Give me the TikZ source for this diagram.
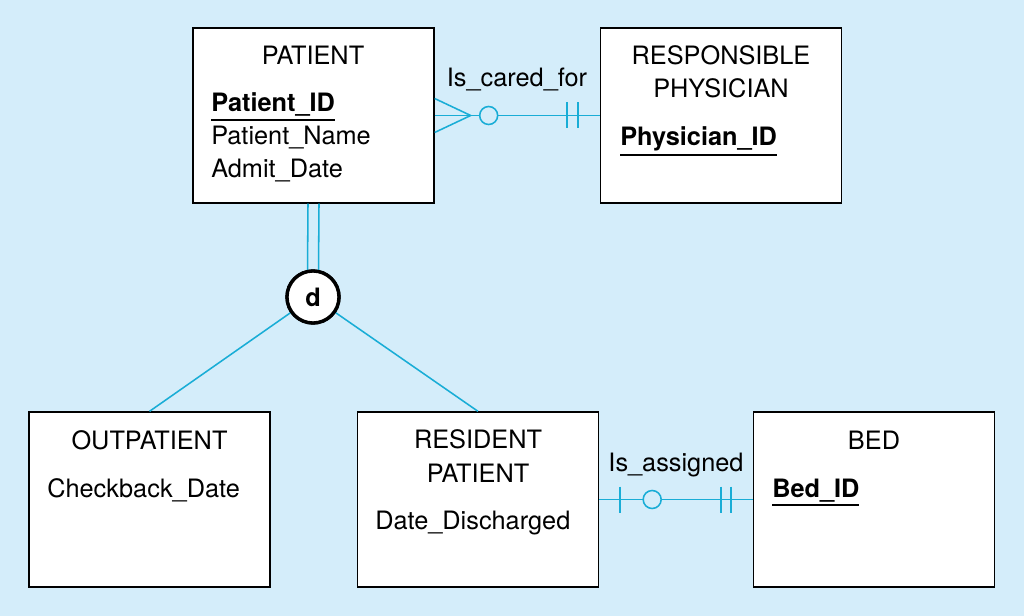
\documentclass[tikz,border=0pt]{standalone}
\usepackage{fontspec}
\setmainfont{TeX Gyre Heros}
\usetikzlibrary{calc}
\definecolor{BgClr}{rgb}{0.83,0.93,0.98}
\definecolor{LinkClr}{rgb}{0.10,0.68,0.84}
\newcommand{\pkey}[1]{\leavevmode\vtop{\hbox{\textbf{#1}}\kern1.6pt\hrule height 1.3pt}}

\begin{document}
\begin{tikzpicture}[x=0.025cm,y=-0.025cm,
  entity/.style={draw,fill=white,line width=0.9pt,minimum width=6.025cm,minimum height=4.375cm,inner sep=0pt},
  title/.style={anchor=base,align=center,inner sep=0pt},
  attr/.style={anchor=base west,inner sep=0pt},
  rel/.style={anchor=base,inner sep=0pt},
  link/.style={draw=LinkClr,line width=1.1pt},
  disjoint/.style={circle,draw,fill=white,line width=2.4pt,minimum size=1.3cm,inner sep=0pt},
  every node/.style={font=\fontsize{18}{23.5}\selectfont}]

\useasboundingbox[fill=BgClr] (0,0) rectangle (1024,616);

\node[entity] (patient) at (313.5,115.5) {};
\node[entity] (physician) at (721,115.5) {};
\node[entity] (outpatient) at (149.5,499.5) {};
\node[entity] (resident) at (478,499.5) {};
\node[entity] (bed) at (874,499.5) {};
\node[disjoint] (d) at (313,297) {};

\node[title] (patientT) at (313,65) {PATIENT};
\node[attr] (patientA) at (211,112) {\pkey{Patient\_ID}};
\node[attr] (patientB) at (211,145) {Patient\_Name};
\node[attr] (patientC) at (211,178) {Admit\_Date};

\node[title] (physicianT) at (721,98) {RESPONSIBLE\\PHYSICIAN};
\node[attr] (physicianA) at (620,146) {\pkey{Physician\_ID}};

\node[title] (outpatientT) at (149.5,449) {OUTPATIENT};
\node[attr] (outpatientA) at (47,497) {Checkback\_Date};

\node[title] (residentT) at (478,482) {RESIDENT\\PATIENT};
\node[attr] (residentA) at (375,529) {Date\_Discharged};

\node[title] (bedT) at (874,449) {BED};
\node[attr] (bedA) at (772,497) {\pkey{Bed\_ID}};

\node[rel] (caredfor) at (517,87) {Is\_cared\_for};
\node[rel] (assigned) at (676,471) {Is\_assigned};

\draw[link] (patient.east) -- (physician.west);
\draw[link] ($(patient.east)+(0,-17)$) -- ($(patient.east)+(36,0)$) -- ($(patient.east)+(0,17)$);
\draw[link,fill=BgClr] ($(patient.east)+(54,0)$) circle (9);
\draw[link] ($(physician.west)+(-33,-13)$) -- ($(physician.west)+(-33,13)$);
\draw[link] ($(physician.west)+(-22,-13)$) -- ($(physician.west)+(-22,13)$);

\draw[link] (resident.east) -- (bed.west);
\draw[link] ($(resident.east)+(21,-13)$) -- ($(resident.east)+(21,13)$);
\draw[link,fill=BgClr] ($(resident.east)+(53,0)$) circle (9);
\draw[link] ($(bed.west)+(-32,-13)$) -- ($(bed.west)+(-32,13)$);
\draw[link] ($(bed.west)+(-22,-13)$) -- ($(bed.west)+(-22,13)$);

\draw[link] ([xshift=-0.1375cm]patient.south) -- ($(d.center)+(-5.5,-24.4)$);
\draw[link] ([xshift=0.1375cm]patient.south) -- ($(d.center)+(5.5,-24.4)$);
\draw[link] (d) -- (outpatient.north);
\draw[link] (d) -- (resident.north);
\node[disjoint] at (d) {\bfseries d};

\end{tikzpicture}
\end{document}
